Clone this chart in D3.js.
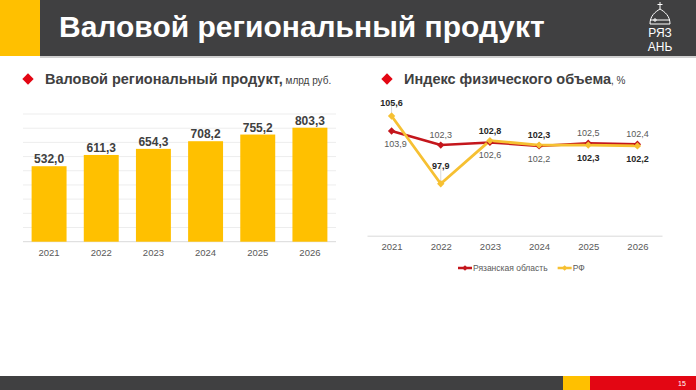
<!DOCTYPE html>
<html>
<head>
<meta charset="utf-8">
<script src="https://cdn.jsdelivr.net/npm/d3@7"></script>
<style>
  body { margin: 0; background: #fff; }
  svg { display: block; font-family: "Liberation Sans", Arial, sans-serif; }
  .narrow { font-family: "Liberation Sans Narrow", "Arial Narrow", "Liberation Sans", Arial, sans-serif; }
</style>
</head>
<body>
<div id="slide"></div>
<script>
// data
var years = ["2021", "2022", "2023", "2024", "2025", "2026"];
var grpValues = [532.0, 611.3, 654.3, 708.2, 755.2, 803.3];
var grpTicks = [0, 100, 200, 300, 400, 500, 600, 700, 800, 900];
var ryazanIndex = [103.9, 102.3, 102.6, 102.2, 102.5, 102.4];
var rfIndex = [105.6, 97.9, 102.8, 102.3, 102.3, 102.2];
var seriesNames = ["Рязанская область", "РФ"];

var svgWidth = 696;
var svgHeight = 390;

var fmt = d3.formatLocale({decimal: ",", thousands: " ", grouping: [3], currency: ["", ""]}).format(".1f");

var svg = d3.select("#slide")
  .append("svg")
  .attr("width", svgWidth)
  .attr("height", svgHeight);

// header
svg.append("rect").attr("x", 0).attr("y", 0).attr("width", 696).attr("height", 56).attr("fill", "#404041");
svg.append("rect").attr("x", 0).attr("y", 0).attr("width", 40).attr("height", 56).attr("fill", "#FFC000");
svg.append("rect").attr("x", 40).attr("y", 56).attr("width", 656).attr("height", 2).attr("fill", "#d0d0d0");
svg.append("text")
  .attr("x", 59).attr("y", 37)
  .attr("fill", "#fff")
  .style("font-size", "30px")
  .style("font-weight", "bold")
  .text("Валовой региональный продукт");

// logo
var logo = svg.append("g").attr("fill", "none").attr("stroke", "#fff").attr("stroke-width", 1);
logo.append("path").attr("d", "M660,2 L660,9 M657.5,4.5 L662.5,4.5");
logo.append("path").attr("d", "M650,24 C650,16 655,12 660,9 C665,12 670,16 670,24 Z M650,20 L670,20");
logo.append("circle").attr("cx", 655).attr("cy", 20).attr("r", 1.2);
logo.append("text").attr("class", "narrow").attr("x", 660).attr("y", 37).attr("text-anchor", "middle").attr("fill", "#fff").attr("stroke", "none")
  .style("font-size", "12px").text("РЯЗ");
logo.append("text").attr("class", "narrow").attr("x", 660).attr("y", 51).attr("text-anchor", "middle").attr("fill", "#fff").attr("stroke", "none")
  .style("font-size", "12px").text("АНЬ");

// footer
svg.append("rect").attr("x", 0).attr("y", 376).attr("width", 696).attr("height", 14).attr("fill", "#404041");
svg.append("rect").attr("x", 563).attr("y", 376).attr("width", 27).attr("height", 14).attr("fill", "#FFC000");
svg.append("rect").attr("x", 590).attr("y", 376).attr("width", 106).attr("height", 14).attr("fill", "#E30613");
svg.append("text").attr("x", 682).attr("y", 386).attr("text-anchor", "middle").attr("fill", "#fff")
  .style("font-size", "7px").text("15");

// subtitles
function subtitle(x, y, main, unit) {
  svg.append("rect")
    .attr("x", -4).attr("y", -4).attr("width", 8).attr("height", 8)
    .attr("transform", `translate(${x}, ${y - 5}) rotate(45)`)
    .attr("fill", "#E30613");
  var t = svg.append("text").attr("x", x + 17).attr("y", y).attr("fill", "#404040");
  t.append("tspan").style("font-size", "14.5px").style("font-weight", "bold").text(main);
  t.append("tspan").style("font-size", "10px").text(unit);
}
subtitle(28, 84, "Валовой региональный продукт,", " млрд руб.");
subtitle(387, 84, "Индекс физического объема", ", %");

// ---- left: bar chart
var xBand = d3.scaleBand().domain(years).range([23, 336]).paddingInner(0.33).paddingOuter(0.165);
var yBar = d3.scaleLinear().domain([0, 900]).range([241.7, 114]);

var barGroup = svg.append("g");
barGroup.selectAll("line.grid")
  .data(grpTicks)
  .enter()
  .append("line")
  .attr("x1", 23).attr("x2", 336)
  .attr("y1", d => yBar(d)).attr("y2", d => yBar(d))
  .attr("stroke", d => d === 0 ? "#d9d9d9" : "#ededed")
  .attr("stroke-width", 1);

barGroup.selectAll("rect.bar")
  .data(grpValues)
  .enter()
  .append("rect")
  .attr("x", (d, i) => xBand(years[i]))
  .attr("y", d => yBar(d))
  .attr("width", xBand.bandwidth())
  .attr("height", d => yBar(0) - yBar(d))
  .attr("fill", "#FFC000");

barGroup.selectAll("text.val")
  .data(grpValues)
  .enter()
  .append("text")
  .attr("class", "narrow")
  .attr("x", (d, i) => xBand(years[i]) + xBand.bandwidth() / 2)
  .attr("y", d => yBar(d) - 3)
  .attr("text-anchor", "middle")
  .attr("fill", "#404040")
  .style("font-size", "12px")
  .style("font-weight", "bold")
  .text(d => fmt(d));

var barAxis = svg.append("g")
  .attr("transform", `translate(0, ${yBar(0)})`)
  .call(d3.axisBottom(xBand).tickSize(0).tickPadding(8));
barAxis.select(".domain").remove();
barAxis.selectAll("text").attr("class", "narrow").attr("fill", "#595959").style("font-size", "9.5px");

// ---- right: line chart
var xPoint = d3.scalePoint().domain(years).range([367, 662]).padding(0.5);
var yLine = d3.scaleLinear().domain([92, 106]).range([235.7, 112.5]);

var lineAxis = svg.append("g")
  .attr("transform", `translate(0, ${yLine(92)})`)
  .call(d3.axisBottom(xPoint).tickSize(0).tickPadding(8));
lineAxis.select(".domain").attr("stroke", "#d9d9d9");
lineAxis.selectAll("text").attr("class", "narrow").attr("fill", "#595959").style("font-size", "9.5px");

var lineGen = d3.line().x((d, i) => xPoint(years[i])).y(d => yLine(d));

var series = [
  {name: seriesNames[0], values: ryazanIndex, color: "#C4161C", width: 2.5, bold: false, pos: [1, -1, 1, 1, -1, -1]},
  {name: seriesNames[1], values: rfIndex, color: "#F6C032", width: 2.8, bold: true, pos: [-1, -1, -1, -1, 1, 1]}
];

series.forEach(function(s) {
  svg.append("path")
    .datum(s.values)
    .attr("d", lineGen)
    .attr("fill", "none")
    .attr("stroke", s.color)
    .attr("stroke-width", s.width)
    .attr("stroke-linejoin", "round");
});

series.forEach(function(s) {
  svg.selectAll(null)
    .data(s.values)
    .enter()
    .append("rect")
    .attr("x", -2.6).attr("y", -2.6).attr("width", 5.2).attr("height", 5.2)
    .attr("transform", (d, i) => `translate(${xPoint(years[i])}, ${yLine(d)}) rotate(45)`)
    .attr("fill", s.color);
});

// leader lines for the two rf labels that sit further away
svg.selectAll(null)
  .data([0, 1])
  .enter()
  .append("line")
  .attr("x1", i => xPoint(years[i])).attr("x2", i => xPoint(years[i]))
  .attr("y1", i => yLine(rfIndex[i]) - 12 - (i === 1 ? 6 : 0))
  .attr("y2", i => yLine(rfIndex[i]) - 3)
  .attr("stroke", "#bfbfbf")
  .attr("stroke-width", 0.6);

series.forEach(function(s) {
  svg.selectAll(null)
    .data(s.values)
    .enter()
    .append("text")
    .attr("class", "narrow")
    .attr("x", (d, i) => xPoint(years[i]) + (s.pos[i] > 0 && !s.bold && i === 0 ? 4 : 0))
    .attr("y", (d, i) => yLine(d) + (s.pos[i] < 0 ? -7 - (s.bold && i < 2 ? (i === 1 ? 8 : 3) : 0) : 16))
    .attr("text-anchor", "middle")
    .attr("fill", s.bold ? "#262626" : "#595959")
    .style("font-size", "9px")
    .style("font-weight", s.bold ? "bold" : "normal")
    .text(d => fmt(d));
});

// legend
var legend = svg.append("g").attr("transform", "translate(458, 268)");
var legendX = 0;
series.forEach(function(s) {
  var g = legend.append("g").attr("transform", `translate(${legendX}, 0)`);
  g.append("line").attr("x1", 0).attr("x2", 14).attr("y1", 0).attr("y2", 0)
    .attr("stroke", s.color).attr("stroke-width", 2.5);
  g.append("rect").attr("x", -2).attr("y", -2).attr("width", 4).attr("height", 4)
    .attr("transform", "translate(7, 0) rotate(45)").attr("fill", s.color);
  var t = g.append("text").attr("class", "narrow").attr("x", 15).attr("y", 3)
    .attr("fill", "#595959").style("font-size", "8.5px").text(s.name);
  legendX += 15 + t.node().getComputedTextLength() + 10;
});
</script>
</body>
</html>
